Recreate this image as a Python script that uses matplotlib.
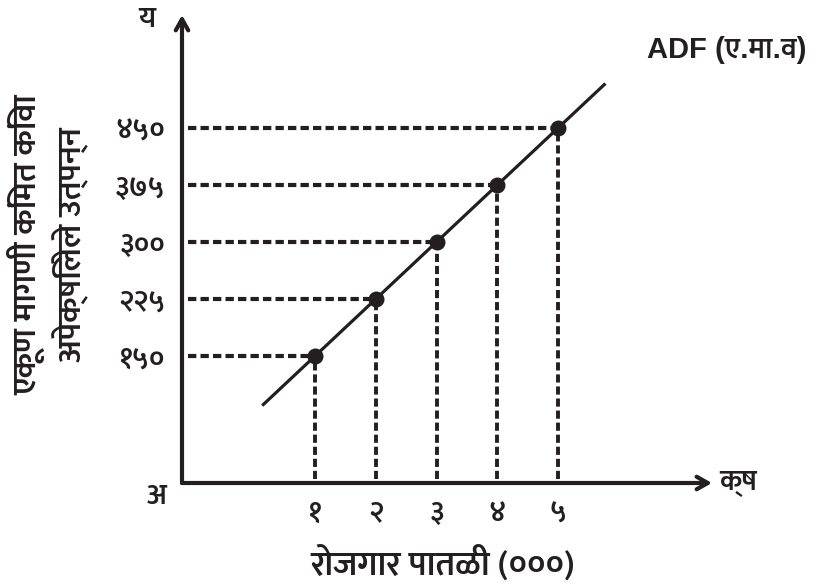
import matplotlib
matplotlib.use('Agg')
import matplotlib.pyplot as plt
import numpy as np

plt.rcParams['font.family'] = ['Mukta', 'Noto Sans Devanagari', 'DejaVu Sans']

# data
employment = [1, 2, 3, 4, 5]
demand_price = [150, 225, 300, 375, 450]
x_labels = ['१', '२', '३', '४', '५']
y_labels = ['१५०', '२२५', '३००', '३७५', '४५०']
curve_label = 'ADF (ए.मा.व)'
x_title = 'रोजगार पातळी (०००)'
y_title = 'एकूण मागणी किंमत किंवा\nअपेक्षिलेले उत्पन्न'

ink = '#231f20'
W, H = 818, 586

fig = plt.figure(figsize=(W / 100, H / 100), dpi=100)
ax = fig.add_axes([182 / W, 103 / H, (712 - 182) / W, (571 - 103) / H])
x0, x1 = -1.19, 7.535
y0, y1 = -17.1, 598.7
ax.set_xlim(x0, x1)
ax.set_ylim(y0, y1)
for s in ax.spines.values():
    s.set_visible(False)

# axes with arrows
arrow = dict(arrowstyle='->,head_length=0.8,head_width=0.45', lw=3.0, color=ink,
             shrinkA=0, shrinkB=0)
ax.annotate('', xy=(1, 0), xytext=(0, 0), xycoords='axes fraction', arrowprops=arrow)
ax.annotate('', xy=(0, 1), xytext=(0, 0), xycoords='axes fraction', arrowprops=arrow)

# ADF line through the points, extended a bit on both ends
slope, icpt = np.polyfit(employment, demand_price, 1)
xl = np.array([0.13, 5.78])
ax.plot(xl, slope * xl + icpt, color=ink, lw=2.3, solid_capstyle='butt')

# dashed guides
for xv, yv in zip(employment, demand_price):
    ax.plot([x0 + 0.1, xv], [yv, yv], color=ink, lw=3.0, dashes=(2.0, 1.0))
    ax.plot([xv, xv], [y0 + 5, yv], color=ink, lw=2.8, dashes=(2.1, 1.0))
ax.plot(employment, demand_price, 'o', color=ink, ms=10.5)

ax.set_xticks(employment, x_labels)
ax.set_yticks(demand_price, y_labels)
ax.tick_params(length=0, labelsize=21, colors=ink)
ax.tick_params(axis='x', pad=12)
ax.tick_params(axis='y', pad=12)
for t in ax.get_xticklabels() + ax.get_yticklabels():
    t.set_fontweight('semibold')

bold = dict(color=ink, fontweight='semibold')
fig.text(147 / W, 1 - 20 / H, 'य', ha='center', va='center', fontsize=21, **bold)
fig.text(157 / W, 1 - 497 / H, 'अ', ha='center', va='center', fontsize=21, **bold)
fig.text(738 / W, 1 - 483 / H, 'क्ष', ha='center', va='center', fontsize=21, **bold)
fig.text(727 / W, 1 - 50 / H, curve_label, ha='center', va='center', fontsize=21,
         family=['Liberation Sans', 'Mukta', 'DejaVu Sans'], **bold)
fig.text(443 / W, 1 - 564 / H, x_title, ha='center', va='center', fontsize=25, **bold)
fig.text(48 / W, 1 - 245 / H, y_title, ha='center', va='center', rotation=90,
         fontsize=24, linespacing=1.25, **bold)

fig.savefig('out.png')
